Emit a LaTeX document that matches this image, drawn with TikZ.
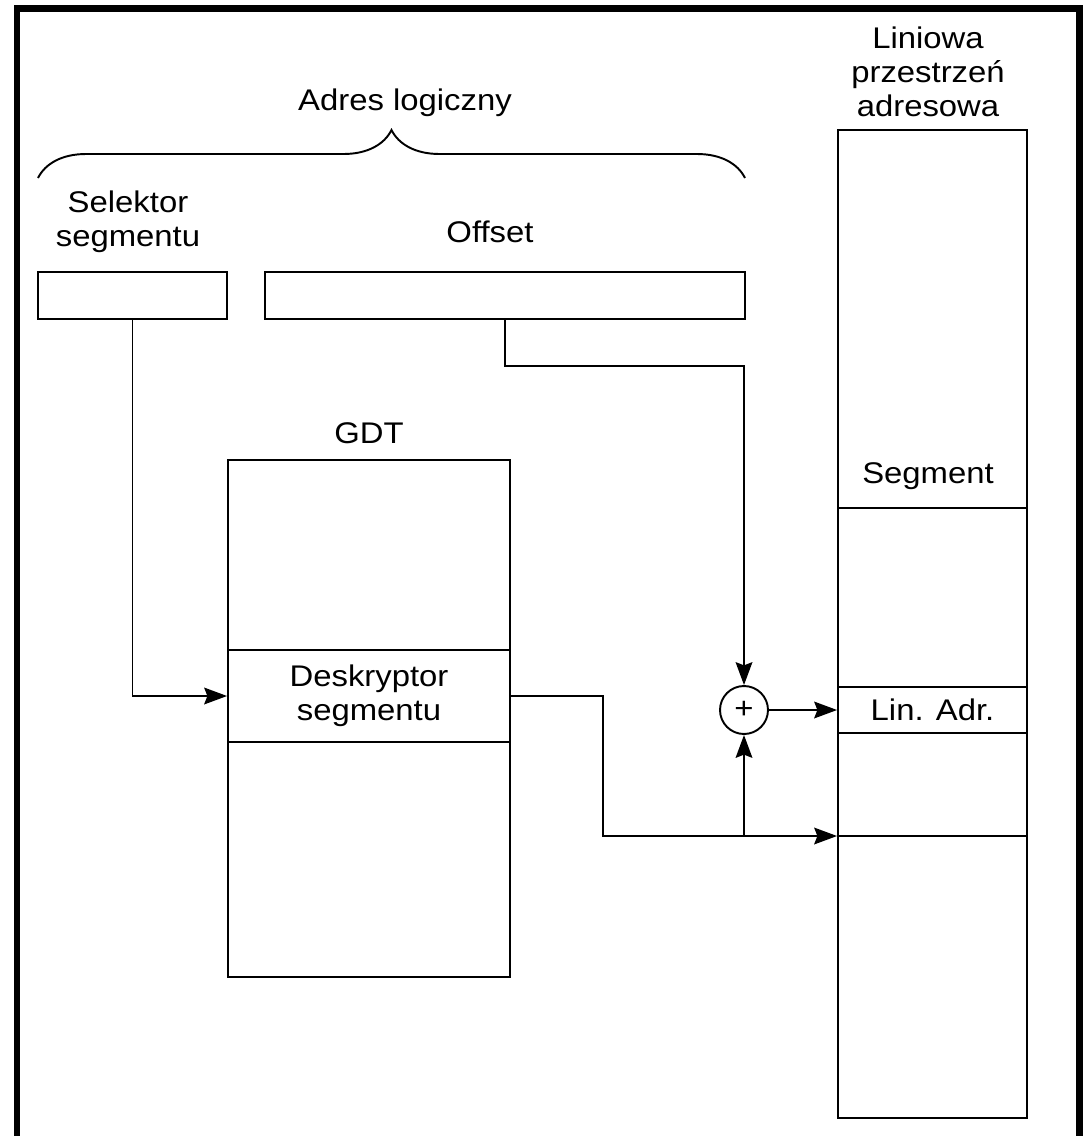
\documentclass[tikz,border=0pt]{standalone}
\usepackage{fontspec}
\setmainfont{Liberation Sans}[FakeStretch=1.1]
\usetikzlibrary{arrows.meta,positioning,decorations.pathreplacing}

\begin{document}
\begin{tikzpicture}[x=0.02cm,y=-0.02cm,line width=1.1pt,
  every node/.style={font=\fontsize{17}{19.4}\selectfont,align=center,inner sep=0pt},
  box/.style={draw,minimum width=3.78cm,minimum height=0.94cm},
  arr/.style={-{Stealth[length=13pt,width=9.5pt,inset=1.8pt]}}]
\useasboundingbox (0,0) rectangle (1086,1136);
\draw[line width=0.14cm] (17,8) rectangle (1079,1140);
% adres logiczny
\node[box] (sel) at (132.5,295.5) {};
\node[box,minimum width=9.6cm] (off) at (505,295.5) {};
\node (sellab) at (128,222) {Selektor\\segmentu};
\node (offlab) at (490,232) {Offset};
\draw[decorate,decoration={brace,amplitude=0.96cm}] (38,178) -- (745,178);
\node (adres) at (405,103) {Adres logiczny};
% GDT
\node[draw,minimum width=5.64cm,minimum height=10.34cm] (gdt) at (369,718.5) {};
\node[above=0.28cm of gdt] (gdtlab) {GDT};
\node[draw,minimum width=5.64cm,minimum height=1.84cm] (desc) at (369,696) {Deskryptor\\segmentu};
% liniowa przestrzen
\node[draw,minimum width=3.78cm,minimum height=19.76cm] (lin) at (932.5,624) {};
\node (linlab) at (928,72) {Liniowa\\przestrzeń\\adresowa};
\node[box,minimum height=0.92cm] (adr) at (932.5,710) {Lin. Adr.};
\node (seglab) at (928,476) {Segment};
\draw (lin.west |- 0,508) -- (lin.east |- 0,508);
\draw (lin.west |- 0,836) -- (lin.east |- 0,836);
\node[draw,circle,minimum size=0.96cm] (plus) at (744,710) {+};
% polaczenia
\coordinate (bend) at (744,366);
\coordinate (knee) at (603,836);
\coordinate (base) at (lin.west |- 0,836);
\draw[arr] (sel.south) |- (desc.west);
\draw[arr] (off.south) |- (bend) -- (plus.north);
\draw[arr] (desc.east) -| (knee) -- (base);
\draw[arr] (plus.south |- base) -- (plus.south);
\draw[arr] (plus.east) -- (adr.west);
\end{tikzpicture}
\end{document}
